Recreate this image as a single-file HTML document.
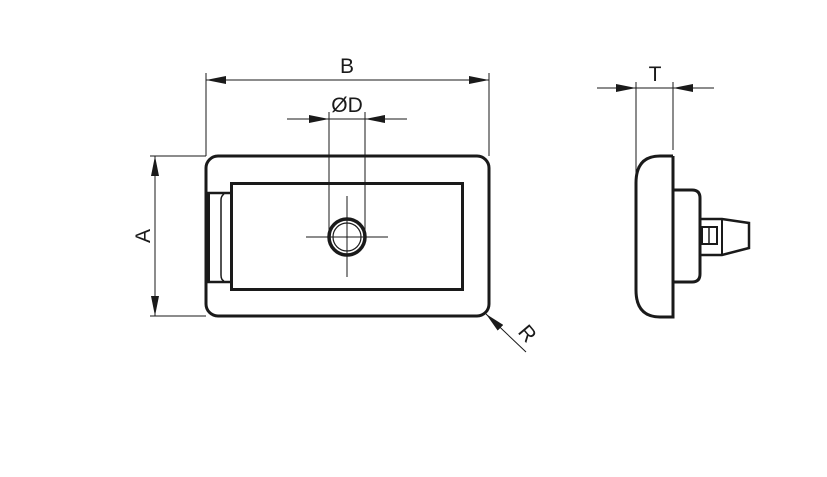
<!DOCTYPE html>
<html><head><style>html,body{margin:0;padding:0;background:#fff}</style></head>
<body>
<svg width="827" height="472" viewBox="0 0 827 472" xmlns="http://www.w3.org/2000/svg">
<defs>
<marker id="a" viewBox="0 0 20 8" refX="20" refY="4" markerWidth="20" markerHeight="8" markerUnits="userSpaceOnUse" orient="auto"><path d="M0,0 L20,4 L0,8 Z" fill="#1a1a1a"/></marker>
</defs>
<g fill="none" stroke="#1a1a1a">
<!-- front view -->
<rect x="206" y="156" width="283" height="160" rx="12" stroke-width="3"/>
<rect x="231.5" y="183.5" width="231" height="106" stroke-width="3"/>
<path d="M206,193 H231 M206,282 H231" stroke-width="2.5"/>
<path d="M208,193 V282" stroke-width="4"/>
<path d="M224,194 Q221,196 221,200 V275 Q221,280 224,281" stroke-width="1.5"/>
<circle cx="347" cy="237" r="18" stroke-width="3.5"/>
<circle cx="347" cy="237" r="14" stroke-width="1.2"/>
<path d="M306,237 H388 M347,196 V277" stroke-width="1"/>
<!-- B -->
<path d="M206,73 V156 M489,73 V156" stroke-width="1"/>
<path d="M348,80 H206" stroke-width="1" marker-end="url(#a)"/>
<path d="M348,80 H489" stroke-width="1" marker-end="url(#a)"/>
<!-- OD -->
<path d="M329,112 V237 M365,112 V237" stroke-width="1"/>
<path d="M287,119 H329" stroke-width="1" marker-end="url(#a)"/>
<path d="M407,119 H365" stroke-width="1" marker-end="url(#a)"/>
<path d="M329,119 H365" stroke-width="1"/>
<!-- A -->
<path d="M150,156 H206 M150,316 H206" stroke-width="1"/>
<path d="M155,236 V156" stroke-width="1" marker-end="url(#a)"/>
<path d="M155,236 V316" stroke-width="1" marker-end="url(#a)"/>
<!-- R -->
<path d="M526,352 L486,314" stroke-width="1" marker-end="url(#a)"/>
<!-- side view -->
<path d="M673,156 V317 H660 Q636,317 636,290 V183 Q636,156 660,156 H673" stroke-width="3"/>
<path d="M673,190 H692 Q700,190 700,198 V274 Q700,282 692,282 H673" stroke-width="3"/>
<path d="M700,219 H722 L749,223 V248 L722,255 H700" stroke-width="2.5"/>
<path d="M722,219 V255" stroke-width="2"/>
<rect x="702" y="227" width="15" height="17" stroke-width="2"/>
<path d="M709,227 V244" stroke-width="1.5"/>
<!-- T -->
<path d="M636,82 V175 M673,82 V150" stroke-width="1"/>
<path d="M597,88 H636" stroke-width="1" marker-end="url(#a)"/>
<path d="M714,88 H673" stroke-width="1" marker-end="url(#a)"/>
<path d="M636,88 H673" stroke-width="1"/>
</g>
<g font-family="Liberation Sans, sans-serif" font-size="21" fill="#1a1a1a" text-anchor="middle">
<text x="347" y="73">B</text>
<text x="347" y="112">ØD</text>
<text x="655" y="81">T</text>
<text transform="translate(150,236) rotate(-90)">A</text>
<text transform="translate(522,338) rotate(50)">R</text>
</g>
</svg>
</body></html>
